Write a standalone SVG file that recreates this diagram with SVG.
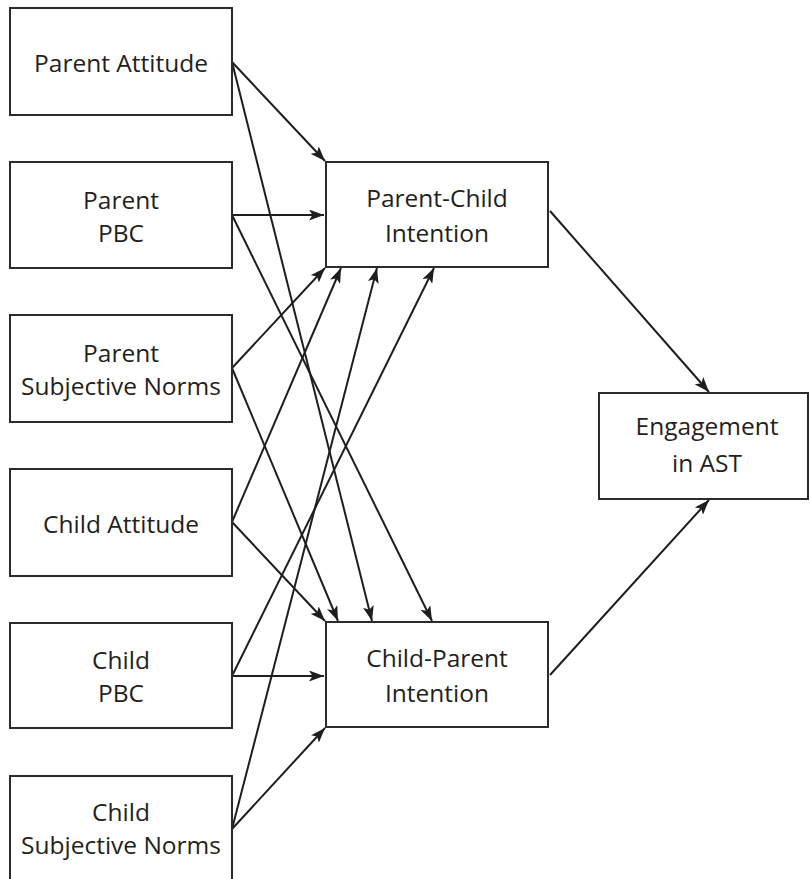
<svg xmlns="http://www.w3.org/2000/svg" width="810" height="879" viewBox="0 0 810 879">
<defs>
<style>
.box{fill:#fff;stroke:#2b2b2b;stroke-width:2}
.lbl{font-family:"Open Sans","Liberation Sans",sans-serif;font-size:24.5px;fill:#231f20;text-anchor:middle}
.c{stroke:#1e1e1e;stroke-width:2;fill:none;marker-end:url(#ah)}
</style>
<marker id="ah" viewBox="0 0 15 11" refX="15" refY="5.5" markerWidth="15" markerHeight="11" orient="auto" markerUnits="userSpaceOnUse">
<path d="M0,0 L15,5.5 L0,11 L3.5,5.5 z" fill="#1e1e1e"/>
</marker>
</defs>
<rect width="810" height="879" fill="#fff"/>
<g id="connectors">
<line class="c" x1="232" y1="62" x2="325" y2="161"/>
<line class="c" x1="232" y1="62" x2="372" y2="621"/>
<line class="c" x1="232" y1="215" x2="324" y2="215"/>
<line class="c" x1="232" y1="215" x2="432" y2="621"/>
<line class="c" x1="232" y1="368" x2="325" y2="268"/>
<line class="c" x1="232" y1="368" x2="338" y2="621"/>
<line class="c" x1="232" y1="522" x2="341" y2="268"/>
<line class="c" x1="232" y1="522" x2="325" y2="621"/>
<line class="c" x1="232" y1="676" x2="434" y2="268"/>
<line class="c" x1="232" y1="676" x2="324" y2="676"/>
<line class="c" x1="232" y1="829" x2="377" y2="268"/>
<line class="c" x1="232" y1="829" x2="325" y2="728"/>
<line class="c" x1="550" y1="211" x2="709" y2="392"/>
<line class="c" x1="550" y1="675" x2="709" y2="500"/>
</g>
<g id="parent-attitude"><rect class="box" x="10" y="8" width="222" height="107"/><text class="lbl" x="121" y="72">Parent Attitude</text></g>
<g id="parent-pbc"><rect class="box" x="10" y="162" width="222" height="106"/><text class="lbl" x="121" y="209">Parent</text><text class="lbl" x="121" y="242">PBC</text></g>
<g id="parent-sn"><rect class="box" x="10" y="315" width="222" height="107"/><text class="lbl" x="121" y="362">Parent</text><text class="lbl" x="121" y="395">Subjective Norms</text></g>
<g id="child-attitude"><rect class="box" x="10" y="469" width="222" height="107"/><text class="lbl" x="121" y="533">Child Attitude</text></g>
<g id="child-pbc"><rect class="box" x="10" y="623" width="222" height="105"/><text class="lbl" x="121" y="669">Child</text><text class="lbl" x="121" y="702">PBC</text></g>
<g id="child-sn"><rect class="box" x="10" y="776" width="222" height="106"/><text class="lbl" x="121" y="821">Child</text><text class="lbl" x="121" y="854">Subjective Norms</text></g>
<g id="parent-child-intention"><rect class="box" x="326" y="162" width="222" height="105"/><text class="lbl" x="437" y="207">Parent-Child</text><text class="lbl" x="437" y="242">Intention</text></g>
<g id="child-parent-intention"><rect class="box" x="326" y="622" width="222" height="105"/><text class="lbl" x="437" y="667">Child-Parent</text><text class="lbl" x="437" y="702">Intention</text></g>
<g id="engagement"><rect class="box" x="599" y="393" width="209" height="106"/><text class="lbl" x="707" y="435">Engagement</text><text class="lbl" x="707" y="472">in AST</text></g>
</svg>
